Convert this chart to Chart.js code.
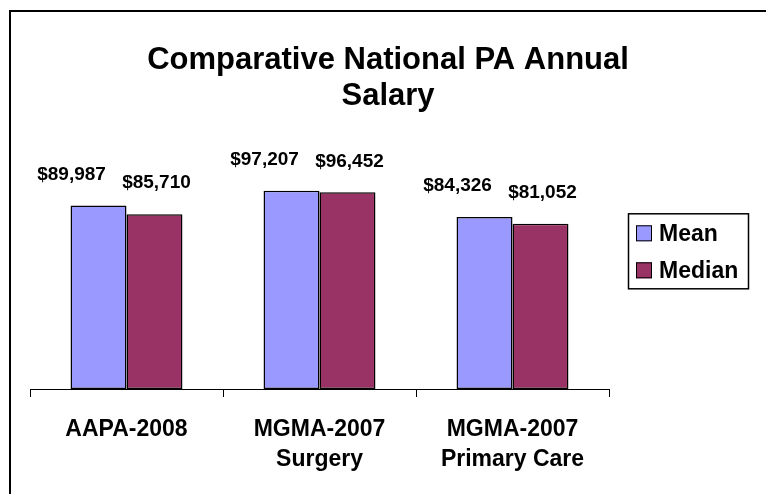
<!DOCTYPE html>
<html lang="en">
<head>
    <meta charset="UTF-8">
    <title>Comparative National PA Annual Salary</title>
    <script src="https://cdn.jsdelivr.net/npm/chart.js"></script>
    <style>
        body, html {
            margin: 0;
            padding: 0;
            background: white;
        }
        .chart-box {
            width: 766px;
            height: 494px;
            position: relative;
        }
    </style>
</head>
<body>
<div class="chart-box">
    <canvas id="salaryChart"></canvas>
</div>

<script>
    // Data
    const categories = [['AAPA-2008'], ['MGMA-2007', 'Surgery'], ['MGMA-2007', 'Primary Care']];
    const seriesNames = ['Mean', 'Median'];
    const meanValues = [89987, 97207, 84326];
    const medianValues = [85710, 96452, 81052];

    const FONT = "'Liberation Sans', Arial, sans-serif";

    // Outer frame (only top and left edges are visible in the picture)
    const framePlugin = {
        id: 'frame',
        afterDraw(chart) {
            const ctx = chart.ctx;
            ctx.save();
            ctx.strokeStyle = '#000';
            ctx.lineWidth = 2;
            ctx.beginPath();
            ctx.moveTo(10, chart.height);
            ctx.lineTo(10, 11);
            ctx.lineTo(chart.width, 11);
            ctx.stroke();
            ctx.restore();
        }
    };

    // Value labels above each bar, shifted a bit per series like the original
    const valueLabels = {
        id: 'valueLabels',
        afterDatasetsDraw(chart, args, opts) {
            const ctx = chart.ctx;
            ctx.save();
            ctx.font = 'bold 19px ' + FONT;
            ctx.fillStyle = '#000';
            ctx.textAlign = 'center';
            ctx.textBaseline = 'middle';
            chart.data.datasets.forEach((ds, i) => {
                const meta = chart.getDatasetMeta(i);
                meta.data.forEach((bar, j) => {
                    const txt = '$' + ds.data[j].toLocaleString('en-US');
                    ctx.fillText(txt, bar.x + opts.dx[i], bar.y - opts.lift);
                });
            });
            ctx.restore();
        }
    };

    // Boxed legend at the right, like the Excel one
    const boxLegend = {
        id: 'boxLegend',
        afterDraw(chart) {
            const ctx = chart.ctx;
            const area = chart.chartArea;
            const left = area.right + 19;
            const top = area.top + 69;
            const w = 120, h = 75;
            ctx.save();
            ctx.fillStyle = '#fff';
            ctx.fillRect(left, top, w, h);
            ctx.strokeStyle = '#000';
            ctx.lineWidth = 1.5;
            ctx.strokeRect(left + 0.5, top + 0.5, w, h);
            ctx.font = 'bold 23px ' + FONT;
            ctx.textBaseline = 'middle';
            chart.data.datasets.forEach((ds, i) => {
                const cy = top + 20 + i * 37;
                ctx.fillStyle = ds.backgroundColor;
                ctx.fillRect(left + 8, cy - 8, 16, 16);
                ctx.lineWidth = 1;
                ctx.strokeStyle = '#000';
                ctx.strokeRect(left + 8.5, cy - 7.5, 15, 15);
                ctx.fillStyle = '#000';
                ctx.fillText(ds.label, left + 31, cy + 1);
            });
            ctx.restore();
        }
    };

    const ctx = document.getElementById('salaryChart').getContext('2d');
    const salaryChart = new Chart(ctx, {
        type: 'bar',
        data: {
            labels: categories,
            datasets: [
                {
                    label: seriesNames[0],
                    data: meanValues,
                    backgroundColor: '#9999FF',
                    borderColor: '#000',
                    borderWidth: 1.5
                },
                {
                    label: seriesNames[1],
                    data: medianValues,
                    backgroundColor: '#993366',
                    borderColor: '#000',
                    borderWidth: 1.5
                }
            ]
        },
        options: {
            responsive: true,
            maintainAspectRatio: false,
            animation: false,
            datasets: {
                bar: {
                    categoryPercentage: 0.58,
                    barPercentage: 1.0,
                    borderSkipped: false
                }
            },
            layout: {
                padding: { left: 10, right: 0, top: 0, bottom: 0 }
            },
            scales: {
                x: {
                    offset: true,
                    grid: {
                        offset: true,
                        drawOnChartArea: false,
                        drawTicks: true,
                        tickLength: 8,
                        color: '#000'
                    },
                    border: { display: true, color: '#000', width: 1 },
                    ticks: {
                        color: '#000',
                        padding: 18,
                        maxRotation: 0,
                        font: { family: FONT, size: 23, weight: 'bold', lineHeight: 1.3 }
                    },
                    afterFit(scale) {
                        scale.height = 105;
                    }
                },
                y: {
                    position: 'left',
                    min: 0,
                    max: 120000,
                    grid: { display: false },
                    border: { display: false },
                    ticks: { display: false },
                    afterFit(scale) {
                        scale.width = 20;
                    }
                },
                // empty axis that reserves the room on the right for the legend
                yRight: {
                    position: 'right',
                    min: 0,
                    max: 120000,
                    grid: { display: false },
                    border: { display: false },
                    ticks: { display: false },
                    afterFit(scale) {
                        scale.width = 157;
                    }
                }
            },
            plugins: {
                legend: { display: false },
                tooltip: { enabled: false },
                title: {
                    display: true,
                    text: ['Comparative National PA Annual', 'Salary'],
                    color: '#000',
                    font: { family: FONT, size: 31, weight: 'bold', lineHeight: 1.15 },
                    padding: { top: 43, bottom: 30 }
                },
                valueLabels: {
                    dx: [-27, 2],
                    lift: 31
                }
            }
        },
        plugins: [valueLabels, boxLegend, framePlugin]
    });
</script>
</body>
</html>
